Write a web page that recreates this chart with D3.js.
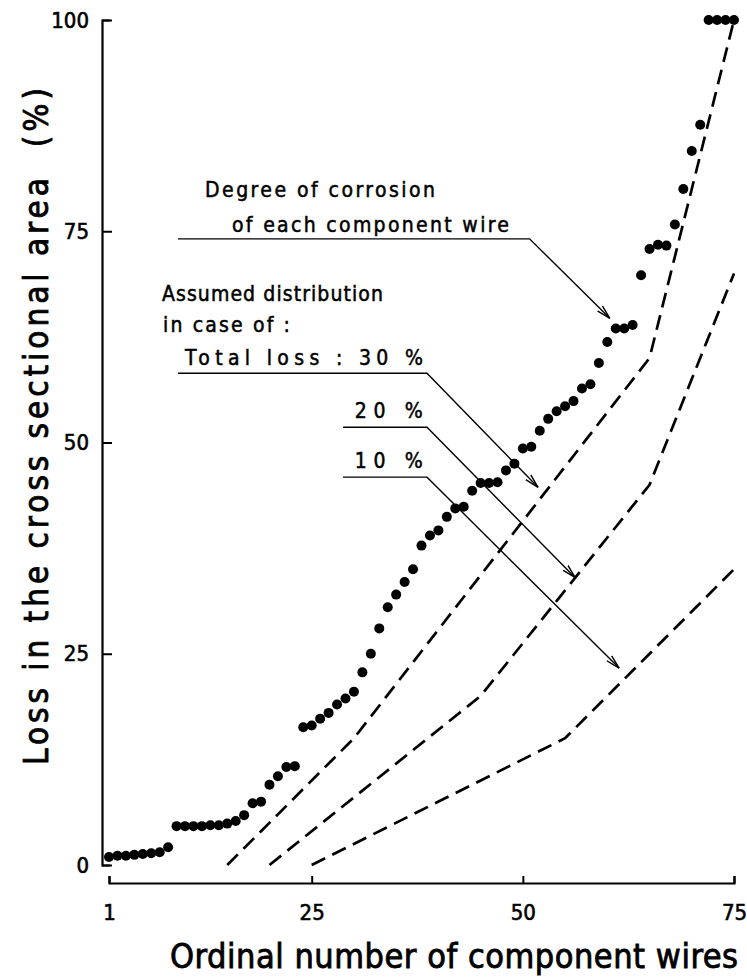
<!DOCTYPE html>
<html>
<head>
<meta charset="utf-8">
<script src="https://cdn.jsdelivr.net/npm/d3@7"></script>
<style>
  body { margin: 0; background: #fff; }
  svg { display: block; }
  text { font-family: "DejaVu Sans Condensed", "Liberation Sans Narrow", sans-serif; fill: #000; stroke: #000; }
</style>
</head>
<body>
<div id="chart"></div>
<script>
// ---- data ----
const wireNumbers = d3.range(1, 76);
const corrosionLoss = [
  0.95, 1.1, 1.1, 1.2, 1.3, 1.4, 1.5, 2.1,
  4.6, 4.6, 4.6, 4.6, 4.7, 4.7, 4.9, 5.2, 5.9,
  7.3, 7.5, 9.5, 10.5, 11.6, 11.7,
  16.3, 16.5, 17.3, 18, 19, 19.7, 20.5, 22.8, 25, 28, 30.5, 32, 33.5, 35,
  37.8, 39.0, 39.6, 41.2, 42.2, 42.4, 44.3, 45.2, 45.2, 45.3, 46.7, 47.5,
  49.3, 49.5, 51.4, 52.8, 53.7, 54.3, 54.9, 56.4, 56.9, 59.4, 61.9, 63.5, 63.5, 63.9,
  69.8, 72.9, 73.4, 73.3, 75.8, 80, 84.5, 87.6, 100, 100, 100, 100
];

// assumed distributions (break points)
const dist30Wires = [15, 30, 65, 75];
const dist30Loss = [0, 15, 60, 100];
const dist20Wires = [20, 45, 65, 75];
const dist20Loss = [0, 20, 45, 70];
const dist10Wires = [25, 55, 75];
const dist10Loss = [0, 15, 35];

const xTicks = [1, 25, 50, 75];
const yTicks = [0, 25, 50, 75, 100];

const noteLines = [
  "Degree of corrosion",
  "of each component wire",
  "Assumed distribution",
  "in case of :",
  "Total loss : 30 %",
  "20 %",
  "10 %"
];

// ---- layout ----
const width = 747;
const height = 980;

const x = d3.scaleLinear().domain([1, 75]).range([109, 734]);
const y = d3.scaleLinear().domain([0, 100]).range([865, 20]);

const svg = d3
  .select("#chart")
  .append("svg")
  .attr("width", width)
  .attr("height", height);

// y axis: ticks point inward, labels on the left
const yAxis = d3
  .axisLeft(y)
  .tickValues(yTicks)
  .tickSizeInner(-10)
  .tickSizeOuter(-8)
  .tickPadding(13);

const yG = svg.append("g").attr("transform", "translate(102,0)").call(yAxis);

// x axis sits below the plot, ticks point up
const xAxis = d3
  .axisBottom(x)
  .tickValues(xTicks)
  .tickSizeInner(-7)
  .tickSizeOuter(-7)
  .tickPadding(21);

const xG = svg.append("g").attr("transform", "translate(0,883)").call(xAxis);

[xG, yG].forEach((g) => {
  g.select(".domain").attr("stroke", "#000").attr("stroke-width", 2.2);
  g.selectAll(".tick line").attr("stroke", "#000").attr("stroke-width", 2);
  g.selectAll(".tick text")
    .attr("font-size", 22)
    .attr("font-family", "'DejaVu Sans Condensed', sans-serif")
    .attr("fill", "#000")
    .attr("stroke", "#000")
    .attr("stroke-width", 0.6);
});

// axis titles
svg
  .append("text")
  .attr("x", 170)
  .attr("y", 968)
  .attr("font-size", 34)
  .attr("stroke-width", 0.8)
  .attr("textLength", 568)
  .attr("lengthAdjust", "spacing")
  .text("Ordinal number of component wires");

svg
  .append("text")
  .attr("transform", "translate(48,765) rotate(-90)")
  .attr("font-size", 33)
  .attr("stroke-width", 0.8)
  .attr("textLength", 677)
  .attr("lengthAdjust", "spacing")
  .style("white-space", "pre")
  .text("Loss in the cross sectional area  (%)");

// assumed distribution lines
const line = d3
  .line()
  .x((d) => x(d[0]))
  .y((d) => y(d[1]));

[
  [dist30Wires, dist30Loss],
  [dist20Wires, dist20Loss],
  [dist10Wires, dist10Loss],
].forEach(([ws, ls]) => {
  svg
    .append("path")
    .datum(d3.zip(ws, ls))
    .attr("d", line)
    .attr("fill", "none")
    .attr("stroke", "#000")
    .attr("stroke-width", 2.7)
    .attr("stroke-dasharray", "15,8");
});

// measured points
svg
  .append("g")
  .selectAll("circle")
  .data(d3.zip(wireNumbers, corrosionLoss))
  .enter()
  .append("circle")
  .attr("cx", (d) => x(d[0]))
  .attr("cy", (d) => y(d[1]))
  .attr("r", 5)
  .attr("fill", "#000");

// ---- annotations (positions in data units) ----
const notePos = [
  { wire: 12.37, loss: 79.05, len: 230 },
  { wire: 15.56, loss: 74.9, len: 277 },
  { wire: 7.27, loss: 66.7, len: 221 },
  { wire: 7.39, loss: 63.1, len: 127 },
  { wire: 10.0, loss: 59.2, len: 238 },
  { wire: 30.1, loss: 52.9, len: 68 },
  { wire: 30.1, loss: 47.0, len: 68 },
];

svg
  .append("g")
  .selectAll("text")
  .data(noteLines)
  .enter()
  .append("text")
  .attr("x", (d, i) => x(notePos[i].wire))
  .attr("y", (d, i) => y(notePos[i].loss))
  .attr("font-size", 21)
  .attr("stroke-width", 0.5)
  .attr("textLength", (d, i) => notePos[i].len)
  .attr("lengthAdjust", "spacing")
  .text((d) => d);

const leaders = [
  [[9.17, 74.1], [50.8, 74.1], [60.3, 64.7]],
  [[9.17, 58.2], [38.65, 58.2], [51.8, 44.7]],
  [[28.7, 51.8], [38.65, 51.8], [56.2, 34.0]],
  [[28.7, 45.9], [38.65, 45.9], [61.4, 23.3]],
];

svg
  .append("defs")
  .append("marker")
  .attr("id", "arrow")
  .attr("markerUnits", "userSpaceOnUse")
  .attr("markerWidth", 16)
  .attr("markerHeight", 10)
  .attr("refX", 14)
  .attr("refY", 5)
  .attr("orient", "auto")
  .append("path")
  .attr("d", "M0,1.5 L14,5 L0,8.5")
  .attr("fill", "none")
  .attr("stroke", "#000")
  .attr("stroke-width", 1.4);

svg
  .append("g")
  .selectAll("path")
  .data(leaders)
  .enter()
  .append("path")
  .attr("d", line)
  .attr("fill", "none")
  .attr("stroke", "#000")
  .attr("stroke-width", 1.4)
  .attr("marker-end", "url(#arrow)");
</script>
</body>
</html>
